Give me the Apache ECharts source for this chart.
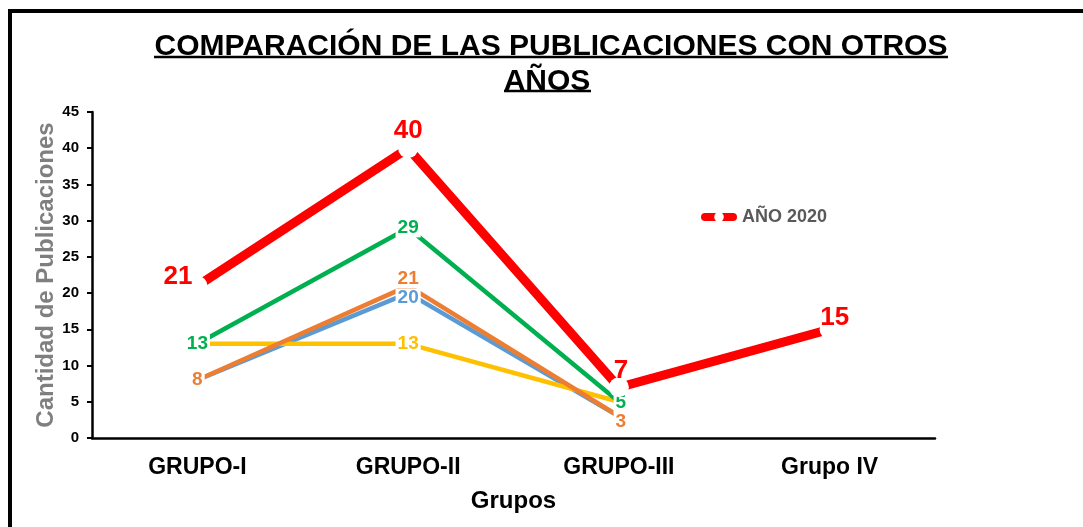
<!DOCTYPE html>
<html>
<head>
<meta charset="utf-8">
<script src="https://cdn.jsdelivr.net/npm/echarts@6/dist/echarts.min.js"></script>
<style>
html,body{margin:0;padding:0;background:#fff;}
#chart{width:1083px;height:527px;}
</style>
</head>
<body>
<div id="chart"></div>
<script>
// ---- data ----
const categories = ['GRUPO-I', 'GRUPO-II', 'GRUPO-III', 'Grupo IV'];
const yTicks = [0, 5, 10, 15, 20, 25, 30, 35, 40, 45];
const ano2020 = [21, 40, 7, 15];
const serieVerde = [13, 29, 5, null];
const serieNaranja = [8, 21, 3, null];
const serieAzul = [8, 20, 3, null];
const serieAmarilla = [13, 13, 5, null];

const FONT = '"Liberation Sans", Arial, sans-serif';

function centeredLabels(values, shown, color, offsets) {
  return values.map((v, i) => ({
    value: v,
    label: {
      show: !!shown[i] && v !== null,
      position: 'inside',
      offset: (offsets && offsets[i]) || [0, 0],
      color: color,
      fontFamily: FONT,
      fontWeight: 'bold',
      fontSize: 19,
      backgroundColor: '#fff',
      padding: [0, 2]
    }
  }));
}

const redLabelPos = [
  { position: 'left', offset: [10, -9] },
  { position: 'top', offset: [0, 11] },
  { position: 'top', offset: [2, 12] },
  { position: 'top', offset: [5, 16] }
];

function thinLine(name, color, values, shown, offsets) {
  return {
    name: name, type: 'line', symbol: 'circle', symbolSize: 2, z: 2,
    lineStyle: { color: color, width: 4.5 },
    itemStyle: { color: 'rgba(0,0,0,0)' },
    emphasis: { disabled: true },
    data: centeredLabels(values, shown, color, offsets)
  };
}

const chart = echarts.init(document.getElementById('chart'), null, { renderer: 'canvas' });
chart.setOption({
  backgroundColor: '#fff',
  animation: false,
  title: {
    text: '{a|COMPARACIÓN DE LAS PUBLICACIONES CON OTROS}\n{b|AÑOS}',
    left: 546,
    top: 24,
    textAlign: 'center',
    textStyle: {
      fontFamily: FONT,
      fontWeight: 'bold',
      fontSize: 30,
      lineHeight: 35,
      color: '#000',
      rich: {
        a: { fontFamily: FONT, fontWeight: 'bold', fontSize: 30, lineHeight: 35, color: '#000' },
        b: { fontFamily: FONT, fontWeight: 'bold', fontSize: 30, lineHeight: 35, color: '#000', padding: [0, 8, 0, 0] }
      }
    }
  },
  legend: {
    data: ['AÑO 2020'],
    left: 696,
    top: 203,
    itemWidth: 28,
    itemHeight: 12,
    lineStyle: { width: 8, cap: 'round' },
    textStyle: {
      fontFamily: FONT,
      fontWeight: 'bold',
      fontSize: 18,
      color: '#595959',
      padding: [0, 0, 0, 4]
    }
  },
  grid: { left: 92, right: 148, top: 112, bottom: 89 },
  xAxis: {
    type: 'category',
    data: categories,
    boundaryGap: true,
    name: 'Grupos',
    nameLocation: 'middle',
    nameGap: 51,
    nameTextStyle: { fontFamily: FONT, fontWeight: 'bold', fontSize: 24, color: '#000' },
    axisLine: { lineStyle: { color: '#000', width: 2.5 } },
    axisTick: { show: false },
    axisLabel: { margin: 18, fontFamily: FONT, fontWeight: 'bold', fontSize: 23, color: '#000' },
    splitLine: { show: false }
  },
  yAxis: {
    type: 'value',
    min: 0,
    max: 45,
    interval: 5,
    name: 'Cantidad de Publicaciones',
    nameLocation: 'middle',
    nameRotate: 90,
    nameGap: 34,
    nameMoveOverlap: false,
    nameTextStyle: { fontFamily: FONT, fontWeight: 'bold', fontSize: 24, color: '#7f7f7f' },
    axisLine: { show: true, lineStyle: { color: '#000', width: 2.5 } },
    axisTick: { show: true, length: 5, lineStyle: { color: '#000', width: 2 } },
    axisLabel: {
      margin: 13, fontFamily: FONT, fontWeight: 'bold', fontSize: 15, color: '#000',
      formatter: v => (yTicks.indexOf(v) >= 0 ? String(v) : '')
    },
    splitLine: { show: false }
  },
  series: [
    thinLine('Serie azul', '#5B9BD5', serieAzul, [false, true, false, false], [null, [0, 5], null, null]),
    thinLine('Serie amarilla', '#FFC000', serieAmarilla, [false, true, false, false]),
    thinLine('Serie naranja', '#ED7D31', serieNaranja, [true, true, true, false], [null, [0, -7], [2, 5], null]),
    thinLine('Serie verde', '#00B050', serieVerde, [true, true, true, false], [null, null, [2, 1], null]),
    {
      name: 'AÑO 2020', type: 'line', symbol: 'circle', symbolSize: 20, z: 3,
      lineStyle: { color: '#FF0000', width: 9 },
      itemStyle: { color: '#fff', borderWidth: 0 },
      emphasis: { disabled: true },
      label: { show: true, color: '#FF0000', fontFamily: FONT, fontWeight: 'bold', fontSize: 26 },
      data: ano2020.map((v, i) => ({ value: v, label: redLabelPos[i] }))
    }
  ],
  graphic: [
    { type: 'rect', shape: { x: 10, y: 11, width: 1200, height: 700 }, style: { fill: 'none', stroke: '#000', lineWidth: 4 }, silent: true },
    { type: 'line', shape: { x1: 154, y1: 57, x2: 948, y2: 57 }, style: { stroke: '#000', lineWidth: 2.5 }, silent: true },
    { type: 'line', shape: { x1: 504, y1: 91, x2: 591, y2: 91 }, style: { stroke: '#000', lineWidth: 2.5 }, silent: true }
  ]
});
</script>
</body>
</html>
